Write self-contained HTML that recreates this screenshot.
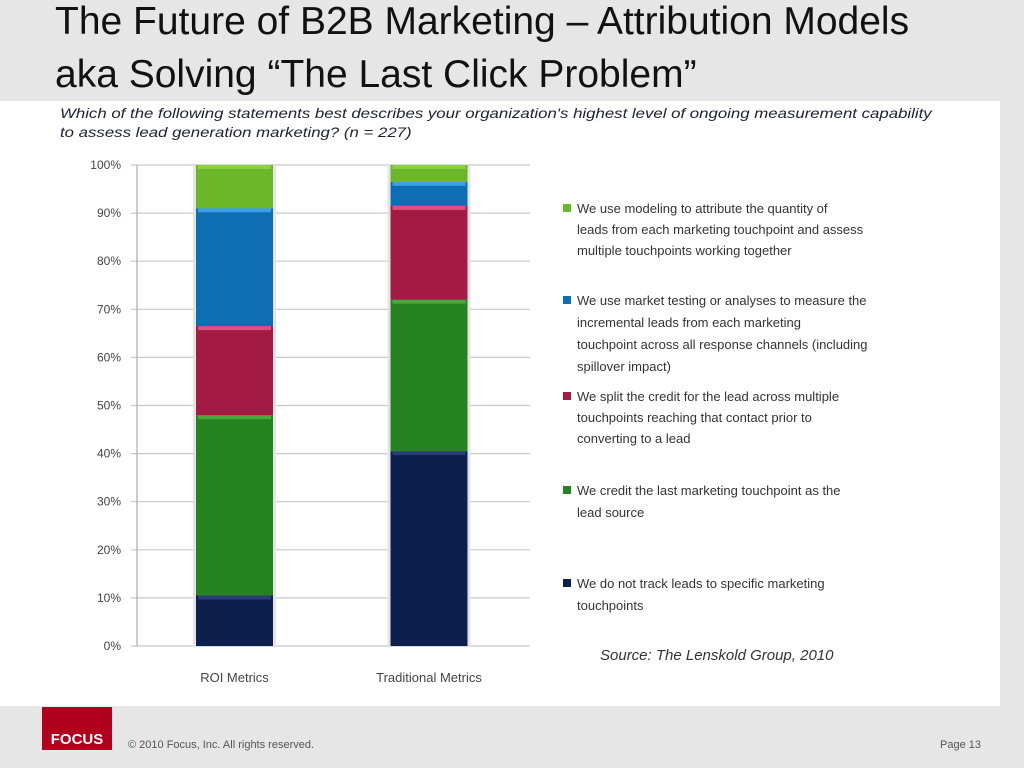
<!DOCTYPE html>
<html><head><meta charset="utf-8"><style>
body{margin:0;width:1024px;height:768px;overflow:hidden;background:#e6e6e6;font-family:"Liberation Sans",sans-serif;position:relative}
.t{position:absolute;left:55px;font-size:39px;color:#111;white-space:nowrap}
.leg{position:absolute;left:577px;font-size:13px;color:#333;line-height:21px;width:380px}
.sq{position:absolute;left:-14px;top:6px;width:8px;height:8px}
</style></head><body>
<div class="t" style="top:0px">The Future of B2B Marketing – Attribution Models</div>
<div class="t" style="top:53px">aka Solving “The Last Click Problem”</div>
<div style="position:absolute;left:0;top:101px;width:1000px;height:605px;background:#fff"></div>
<div style="position:absolute;left:60px;top:104px;font-size:14px;font-style:italic;color:#223;line-height:19px;white-space:nowrap;transform:scaleX(1.2);transform-origin:0 0">Which of the following statements best describes your organization's highest level of ongoing measurement capability<br>to assess lead generation marketing? (n = 227)</div>
<svg id="ch" width="1024" height="768" style="position:absolute;left:0;top:0"></svg>
<div class="leg" style="top:198px"><span class="sq" style="background:#6ab82a"></span>We use modeling to attribute the quantity of<br>leads from each marketing touchpoint and assess<br>multiple touchpoints working together</div>
<div class="leg" style="top:290px;line-height:22px"><span class="sq" style="background:#0e6eb4"></span>We use market testing or analyses to measure the<br>incremental leads from each marketing<br>touchpoint across all response channels (including<br>spillover impact)</div>
<div class="leg" style="top:386px"><span class="sq" style="background:#a31a44"></span>We split the credit for the lead across multiple<br>touchpoints reaching that contact prior to<br>converting to a lead</div>
<div class="leg" style="top:480px;line-height:22px"><span class="sq" style="background:#268420"></span>We credit the last marketing touchpoint as the<br>lead source</div>
<div class="leg" style="top:573px;line-height:22px"><span class="sq" style="background:#0c1f4f"></span>We do not track leads to specific marketing<br>touchpoints</div>
<div style="position:absolute;left:600px;top:647px;font-size:15px;font-style:italic;color:#333;white-space:nowrap">Source: The Lenskold Group, 2010</div>
<div style="position:absolute;left:42px;top:707px;width:70px;height:43px;background:#b0001e;color:#fff;font-weight:bold;font-size:15px;line-height:16px;text-align:center;padding-top:25px;box-sizing:border-box">FOCUS</div>
<div style="position:absolute;left:128px;top:739px;font-size:11px;color:#555">© 2010 Focus, Inc. All rights reserved.</div>
<div style="position:absolute;left:940px;top:739px;font-size:11px;color:#555">Page 13</div>
<script>
const categories=["ROI Metrics","Traditional Metrics"];
const noTrack=[10.5,40.5];
const lastTouch=[37.5,31.5];
const splitCredit=[18.5,19.5];
const marketTest=[24.5,5];
const modeling=[9,3.5];
const yTicks=[0,10,20,30,40,50,60,70,80,90,100];
const seriesList=[noTrack,lastTouch,splitCredit,marketTest,modeling];
const colors=["#0c1f4f","#268420","#a31a44","#0e6eb4","#6ab82a"];
const tops=["#2a3d78","#4aa83c","#e0507a","#3aa0e8","#8cd040"];
const names=["no-tracking","last-touch","split-credit","market-testing","modeling"];
const svg=document.getElementById('ch');const NS='http://www.w3.org/2000/svg';
const y=v=>646-v*4.81;const bx=i=>196+i*194.5;const bw=77;
function el(t,a){const e=document.createElementNS(NS,t);for(const k in a)e.setAttribute(k,a[k]);svg.appendChild(e);return e;}
yTicks.forEach(t=>{const g=el('line',{x1:131,x2:530,y1:y(t),y2:y(t),stroke:'#c8c8c8','stroke-width':1.2});

const tx=el('text',{x:121,y:y(t)+4,'text-anchor':'end','font-size':12,fill:'#444','font-family':'Liberation Sans'});tx.textContent=t+'%';
});
const ax=el('line',{x1:137,x2:137,y1:y(100),y2:y(0),stroke:'#aaa','stroke-width':1.2});

categories.forEach((c,i)=>{let acc=0;
const sh=el('rect',{x:bx(i)-3,y:y(100),width:bw+6,height:y(0)-y(100),fill:'#e4e4e4'});

seriesList.forEach((s,k)=>{const v=s[i];
const r=el('rect',{x:bx(i),y:y(acc+v),width:bw,height:v*4.81,fill:colors[k]});

const h=el('rect',{x:bx(i)+2,y:y(acc+v),width:bw-4,height:4,fill:tops[k]});

acc+=v;});
const tx=el('text',{x:bx(i)+bw/2,y:682,'text-anchor':'middle','font-size':13,fill:'#444','font-family':'Liberation Sans'});tx.textContent=c;
});
</script>
</body></html>
